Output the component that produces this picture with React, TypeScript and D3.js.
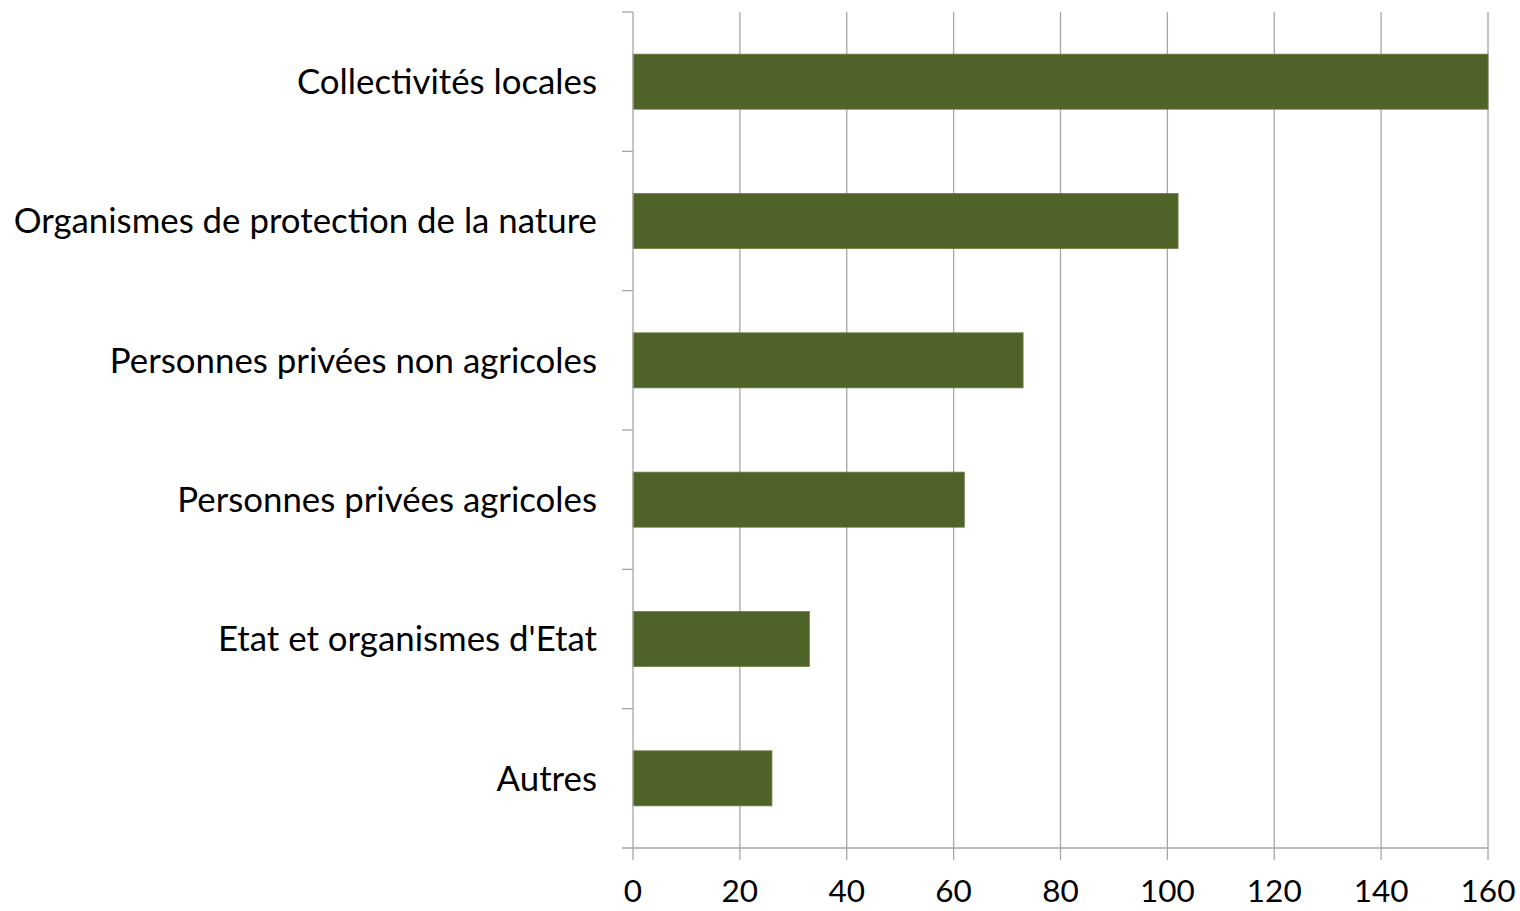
import React from 'react';
import * as d3 from 'd3';

const categories = [
  'Collectivités locales',
  'Organismes de protection de la nature',
  'Personnes privées non agricoles',
  'Personnes privées agricoles',
  "Etat et organismes d'Etat",
  'Autres',
];
const values = [160, 102, 73, 62, 33, 26];
const xTicks = [0, 20, 40, 60, 80, 100, 120, 140, 160];

const WIDTH = 1520;
const HEIGHT = 911;
const margin = { top: 12, right: 32, bottom: 63, left: 633 };
const FONT = 'Lato, "Open Sans", sans-serif';

export default function App() {
  const innerWidth = WIDTH - margin.left - margin.right;
  const innerHeight = HEIGHT - margin.top - margin.bottom;

  const x = d3.scaleLinear().domain([0, 160]).range([0, innerWidth]);
  const y = d3.scaleBand<string>()
    .domain(categories)
    .range([0, innerHeight])
    .paddingInner(0.605)
    .paddingOuter(0.3025);

  const step = y.step();
  const boundaries = d3.range(categories.length + 1).map(i => i * step);

  return (
    <svg width={WIDTH} height={HEIGHT} style={{ position: 'absolute', left: 0, top: 0, background: '#fff' }}>
      <g transform={`translate(${margin.left},${margin.top})`}>
        {/* vertical gridlines */}
        {xTicks.filter(t => t > 0).map(t => (
          <line key={t} x1={x(t)} x2={x(t)} y1={0} y2={innerHeight} stroke="#a6a6a6" strokeWidth={1.3} />
        ))}

        {/* bars */}
        {categories.map((c, i) => (
          <rect
            key={c}
            x={x(0)}
            y={y(c)!}
            width={x(values[i]) - x(0)}
            height={y.bandwidth()}
            fill="#4f6228"
            stroke="#6b7d48"
            strokeWidth={0.8}
          />
        ))}

        {/* y axis */}
        <line x1={0} x2={0} y1={0} y2={innerHeight} stroke="#a6a6a6" strokeWidth={1.3} />
        {boundaries.slice(0, -1).map((b, i) => (
          <line key={i} x1={-11} x2={0} y1={b} y2={b} stroke="#a6a6a6" strokeWidth={1.3} />
        ))}

        {/* x axis */}
        <line x1={-11} x2={innerWidth} y1={innerHeight} y2={innerHeight} stroke="#a6a6a6" strokeWidth={1.3} />
        {xTicks.map(t => (
          <line key={t} x1={x(t)} x2={x(t)} y1={innerHeight} y2={innerHeight + 12} stroke="#a6a6a6" strokeWidth={1.3} />
        ))}
        {xTicks.map(t => (
          <text
            key={t}
            x={x(t)}
            y={innerHeight + 54}
            textAnchor="middle"
            fontFamily={FONT}
            fontSize={31.5}
            fill="#000"
          >
            {t}
          </text>
        ))}

        {/* category labels */}
        {categories.map(c => (
          <text
            key={c}
            x={-36}
            y={y(c)! + y.bandwidth() / 2}
            dy="0.35em"
            textAnchor="end"
            fontFamily={FONT}
            fontSize={34.8}
            fill="#000"
          >
            {c}
          </text>
        ))}
      </g>
    </svg>
  );
}
